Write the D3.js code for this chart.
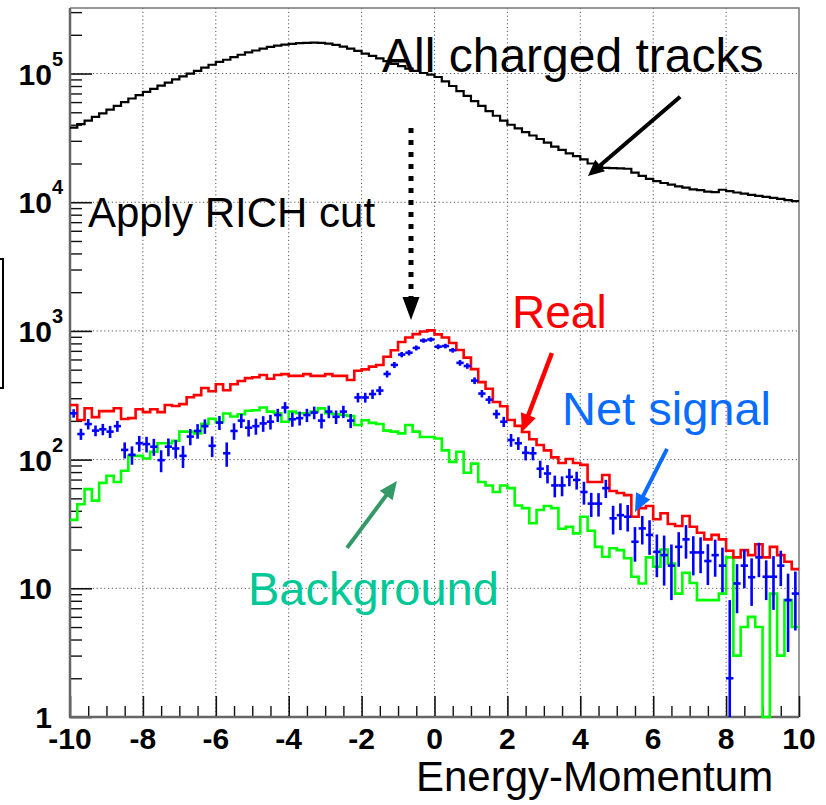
<!DOCTYPE html>
<html><head><meta charset="utf-8">
<script src="https://cdn.jsdelivr.net/npm/d3@7"></script>
<style>
html,body{margin:0;padding:0;background:#fff;}
svg{display:block;font-family:"Liberation Sans",Arial,Helvetica,sans-serif;}
</style></head>
<body><svg id="c" width="826" height="805"></svg>
<script>
// ---- data (100 bins from -10 to 10) ----
const xRange = [-10, 10];
const nBins = 100;
const xMajorTicks = [-10,-8,-6,-4,-2,0,2,4,6,8,10];
const yDecades = [1,10,100,1000,10000,100000];

const allTracks = [
 38000,40500,43000,46000,49000,52500,56000,60000,64000,68000,
 72000,76000,80500,85000,90000,95000,100000,105000,111000,117000,
 123000,128000,134000,140000,146000,151000,156000,161000,165000,168000,
 170000,172000,173000,174000,173000,171000,167000,162000,156000,150000,
 143000,137000,131000,125000,119000,114000,109000,105000,101000,98000,
 94000,87000,80000,73000,67000,61000,56000,51000,47000,43000,
 40000,37500,35000,33000,31000,29000,27000,25500,24000,22800,
 21500,20000,19000,18500,18400,18300,18200,17000,16000,15200,
 14600,14100,13700,13300,13000,12600,12400,12100,12000,12500,
 12200,11900,11650,11400,11200,11000,10800,10600,10400,10200];

const real = [
 266,203,251,214,238,238,251,207,210,246,
 234,246,234,266,261,270,305,317,360,340,
 385,346,385,408,430,437,455,425,455,462,
 447,447,462,447,447,462,447,447,415,491,
 503,528,544,630,708,820,890,945,990,1010,
 940,890,805,710,620,505,400,355,280,260,
 203,183,164,144,130,118,104,94,101,94,
 91,67,67,76,57,55,53,36,42,43.6,
 34.4,38.3,31.6,30.5,36.5,30.1,27,24,26,24,
 19.6,17.4,19.8,18.1,22,17.4,21,18.1,16.1,14.1];

const background = [
 34,45,59,48,66,75,67,82,107,107,
 102,115,134,134,140,165,165,160,190,208,
 195,228,216,225,240,242,254,236,229,197,
 236,229,229,236,250,229,225,222,218,186,
 202,193,189,168,165,160,186,165,150,150,
 146,118,96,115,79,93,67,63,56,63,
 60,44,42,32,40.6,43.6,42,29,30,26.7,
 36,28,21,17.6,20.5,19.8,17.1,12.3,10.9,17.4,
 14.7,20,15.6,9.1,13.2,11,8.1,8.1,8.1,9.1,
 17.4,3,5,6,5,0,9.1,3,8.1,5];

const netSignal = [
 229,158,189,168,172,165,182,119,109,134,
 132,126,99,126,122,107,151,167,182,128,
 194,112,167,201,177,182,191,197,222,254,
 206,210,222,232,201,236,215,236,201,304,
 304,323,344,463,544,655,677,738,842,858,
 754,763,708,565,534,411,326,292,226,197,
 142,134,113,112,85,78,63,63,73.5,69.5,
 56,45.5,45.5,60,35,37,36,23,29.2,26,
 19.2,18.1,15,21,24,19,19,16.3,18.1,15,
 2.0,10.9,15,12.2,17.4,12.3,12.3,15,8.1,9.1];

const netError = [
 17.3,15.7,17.6,16.2,17.4,17.7,17.8,17,17.8,18.8,
 18.3,19,19.2,20,20,20.9,21.7,21.8,23.5,23.4,
 24.1,24,24.5,25.2,25.9,26,26.6,25.7,26.2,25.7,
 26.1,26,26.3,26.1,26.4,26.3,25.9,25.9,25.2,26,
 26.6,26.9,27.1,28.2,29.5,31.3,32.8,33.3,33.8,34.1,
 33,31.7,30,28.7,26.4,24.5,21.6,20.4,18.3,18,
 16.2,15.1,14.4,13.3,13.1,12.7,12.1,11.1,11.4,11,
 11.3,9.7,9.4,9.7,8.8,8.7,8.4,6.9,7.3,7.8,
 7,7.6,6.9,6.3,7,6.4,5.9,5.7,5.8,5.7,
 6.1,4.5,5,4.9,5.2,4.2,5.5,4.6,4.9,4.4];

// ---- layout ----
const L = 70, R = 799, T = 8, B = 717;
const yMin = 1, yMax = 3.23e5;
const x = d3.scaleLinear().domain(xRange).range([L, R]);
const y = d3.scaleLog().domain([yMin, yMax]).range([B, T]);
const yc = v => y(Math.max(v, yMin));
const bw = (xRange[1]-xRange[0])/nBins;
const binLo = i => xRange[0] + i*bw;

const svg = d3.select("#c");

// grid
const grid = svg.append("g").attr("stroke","#555").attr("stroke-width",1).attr("stroke-dasharray","1.2,2.6");
grid.selectAll("line.gx").data(xMajorTicks.slice(1,-1)).join("line")
  .attr("x1",d=>x(d)).attr("x2",d=>x(d)).attr("y1",T).attr("y2",B);
grid.selectAll("line.gy").data(yDecades.slice(1)).join("line")
  .attr("x1",L).attr("x2",R).attr("y1",d=>y(d)).attr("y2",d=>y(d));

// frame top/right
svg.append("path").attr("d",`M${L},${T}H${R}V${B}`).attr("fill","none").attr("stroke","#777").attr("stroke-width",1.5);

// axes ticks (inside)
const xMinor = d3.range(-10, 10.001, 0.5).filter(v => Math.abs(v/2 - Math.round(v/2)) > 1e-6);
svg.append("g").attr("transform",`translate(0,${B})`)
  .call(d3.axisBottom(x).tickValues(xMajorTicks).tickSize(-21).tickFormat(""))
  .call(g=>{g.select(".domain").remove(); g.selectAll("line").attr("stroke","#111").attr("stroke-width",1.6);});
svg.append("g").attr("transform",`translate(0,${B})`)
  .call(d3.axisBottom(x).tickValues(xMinor).tickSize(-11).tickFormat(""))
  .call(g=>{g.select(".domain").remove(); g.selectAll("line").attr("stroke","#111").attr("stroke-width",1.4);});
const yMinor = [];
for (let k=0;k<6;k++) for (let m=2;m<=9;m++){ const v=m*Math.pow(10,k); if (v<yMax) yMinor.push(v); }
svg.append("g").attr("transform",`translate(${L},0)`)
  .call(d3.axisLeft(y).tickValues(yDecades).tickSize(-22).tickFormat(""))
  .call(g=>{g.select(".domain").remove(); g.selectAll("line").attr("stroke","#111").attr("stroke-width",1.6);});
svg.append("g").attr("transform",`translate(${L},0)`)
  .call(d3.axisLeft(y).tickValues(yMinor).tickSize(-12).tickFormat(""))
  .call(g=>{g.select(".domain").remove(); g.selectAll("line").attr("stroke","#111").attr("stroke-width",1.4);});

// axis lines
svg.append("line").attr("x1",L).attr("x2",L).attr("y1",T).attr("y2",B+1).attr("stroke","#666").attr("stroke-width",2.5);
svg.append("line").attr("x1",L-1).attr("x2",R).attr("y1",B).attr("y2",B).attr("stroke","#666").attr("stroke-width",2.5);

// tick labels
svg.append("g").selectAll("text").data(xMajorTicks).join("text")
  .attr("x",d=>x(d)).attr("y",749).attr("text-anchor","middle")
  .attr("font-size",30).attr("font-weight","bold").attr("fill","#000").text(d=>d);
const yl = svg.append("g").attr("font-weight","bold").attr("fill","#000");
yDecades.forEach(d=>{
  const e = Math.round(Math.log10(d));
  const t = yl.append("text").attr("x",52).attr("y",y(d)+11).attr("text-anchor","end").attr("font-size",30);
  if (e<=1) t.text(d);
  else {
    t.attr("x",63);
    t.append("tspan").text("10");
    t.append("tspan").attr("font-size",20).attr("dy",-19).text(e);
  }
});

// histograms
const stepLine = d3.line().x(p=>p[0]).y(p=>p[1]);
function stepPts(arr){
  const pts=[];
  arr.forEach((v,i)=>{ pts.push([x(binLo(i)), yc(v)]); pts.push([x(binLo(i+1)), yc(v)]); });
  return pts;
}
svg.append("path").attr("d",stepLine(stepPts(allTracks))).attr("fill","none").attr("stroke","#000").attr("stroke-width",2.2);
svg.append("path").attr("d",stepLine(stepPts(background))).attr("fill","none").attr("stroke","#00ff00").attr("stroke-width",2.6);
svg.append("path").attr("d",stepLine(stepPts(real))).attr("fill","none").attr("stroke","#ff0000").attr("stroke-width",2.6);

// net signal points with error bars
const ng = svg.append("g").attr("stroke","#0000ff").attr("stroke-width",2.6);
netSignal.forEach((v,i)=>{
  const e = netError[i];
  ng.append("line").attr("x1",x(binLo(i))).attr("x2",x(binLo(i+1))).attr("y1",yc(v)).attr("y2",yc(v));
  ng.append("line").attr("x1",x(binLo(i)+bw/2)).attr("x2",x(binLo(i)+bw/2)).attr("y1",yc(v+e)).attr("y2",yc(v-e));
});

// annotations
function arrow(x1,y1,x2,y2,color,w,hl,hw,dash){
  const X1=x(x1),Y1=y(y1),X2=x(x2),Y2=y(y2);
  const dx=X2-X1, dy=Y2-Y1, len=Math.hypot(dx,dy), ux=dx/len, uy=dy/len;
  const bx=X2-ux*hl, by=Y2-uy*hl;
  const ln = svg.append("line").attr("x1",X1).attr("y1",Y1).attr("x2",bx+ux*2).attr("y2",by+uy*2)
    .attr("stroke",color).attr("stroke-width",w);
  if (dash) ln.attr("stroke-dasharray",dash);
  svg.append("path").attr("d",`M${X2},${Y2}L${bx-uy*hw/2},${by+ux*hw/2}L${bx+uy*hw/2},${by-ux*hw/2}Z`).attr("fill",color);
}
arrow(6.74,6.6e4,4.21,1.6e4,"#000",4,16,15);
arrow(-0.645,3.77e4,-0.645,1216,"#000",5,23,17,"5,7");
arrow(3.22,673,2.40,164,"#ff0000",4.5,18,16);
arrow(6.38,121,5.50,39.2,"#0a6cff",4,18,16);
arrow(-2.40,20.6,-1.03,68.2,"#339966",4,18,16);

const ann = [
  {t:"All charged tracks", x:382, y:72, s:48, c:"#000"},
  {t:"Apply RICH cut", x:88, y:227, s:42, c:"#000"},
  {t:"Real", x:512, y:328, s:46, c:"#ff0000"},
  {t:"Net signal", x:562, y:425, s:47, c:"#0a6cff"},
  {t:"Background", x:248, y:605, s:47, c:"#00c896"},
  {t:"Energy-Momentum", x:416, y:791, s:42, c:"#000"}
];
svg.append("g").selectAll("text").data(ann).join("text")
  .attr("x",d=>d.x).attr("y",d=>d.y).attr("font-size",d=>d.s).attr("fill",d=>d.c).text(d=>d.t);

// stray bracket at left edge
svg.append("path").attr("d","M0,259H3V388H0").attr("fill","none").attr("stroke","#000").attr("stroke-width",2);
</script></body></html>
